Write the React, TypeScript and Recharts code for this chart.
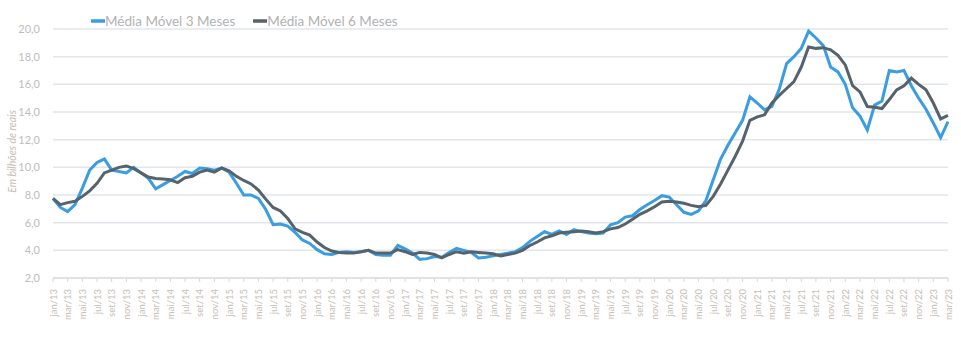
import { LineChart, Line, XAxis, YAxis, CartesianGrid, Legend } from "recharts"

const meses = ["jan", "fev", "mar", "abr", "mai", "jun", "jul", "ago", "set", "out", "nov", "dez"]
const anos = [13, 14, 15, 16, 17, 18, 19, 20, 21, 22, 23]

// jan/13 .. mar/23
const categorias = anos.flatMap((a) => meses.map((m) => `${m}/${a}`)).slice(0, 123)

const media3Meses = [
  7.75, 7.1, 6.8, 7.3, 8.5, 9.8, 10.35, 10.6, 9.8, 9.7, 9.6, 10.0,
  9.6, 9.2, 8.45, 8.75, 9.05, 9.35, 9.7, 9.55, 9.95, 9.9, 9.8, 9.95,
  9.65, 8.85, 8.0, 8.0, 7.75, 6.95, 5.85, 5.9, 5.75, 5.3, 4.75, 4.5,
  4.05, 3.75, 3.7, 3.85, 3.9, 3.85, 3.9, 4.0, 3.7, 3.65, 3.65, 4.35,
  4.1, 3.8, 3.35, 3.4, 3.55, 3.5, 3.85, 4.15, 4.0, 3.85, 3.45, 3.5,
  3.6, 3.7, 3.8, 3.9, 4.2, 4.65, 5.0, 5.35, 5.15, 5.4, 5.15, 5.5,
  5.35, 5.25, 5.2, 5.25, 5.85, 6.0, 6.4, 6.5, 6.95, 7.3, 7.6, 7.95,
  7.85, 7.3, 6.75, 6.6, 6.85, 7.6, 9.1, 10.6, 11.6, 12.5, 13.4, 15.1,
  14.65, 14.15, 14.4, 15.65, 17.5, 18.0, 18.6, 19.85, 19.35, 18.8, 17.25, 16.9,
  16.0, 14.3, 13.7, 12.7, 14.5, 14.8, 17.0, 16.9, 17.0, 15.9, 15.0, 14.2,
  13.2, 12.15, 13.3,
]

const media6Meses = [
  7.75, 7.3, 7.45, 7.55, 7.9, 8.3, 8.85, 9.6, 9.8, 10.0, 10.1, 9.9,
  9.6, 9.3, 9.2, 9.15, 9.1, 8.9, 9.25, 9.35, 9.65, 9.8, 9.65, 9.95,
  9.75, 9.35, 9.05, 8.8, 8.35, 7.7, 7.1, 6.85, 6.3, 5.55, 5.3, 5.1,
  4.6, 4.2, 3.95, 3.85, 3.8, 3.8, 3.9, 4.0, 3.8, 3.8, 3.8, 4.05,
  3.9, 3.7, 3.85, 3.8, 3.7, 3.45, 3.7, 3.9, 3.8, 3.9, 3.85, 3.8,
  3.75, 3.6, 3.7, 3.8, 4.0, 4.35, 4.6, 4.9, 5.05, 5.25, 5.3, 5.35,
  5.4, 5.35, 5.25, 5.35, 5.55, 5.65, 5.9, 6.25, 6.6, 6.85, 7.15, 7.5,
  7.55, 7.5, 7.4, 7.25, 7.15, 7.25, 7.9, 8.8, 9.8, 10.8, 11.9, 13.4,
  13.65, 13.8, 14.65, 15.2, 15.7, 16.2, 17.25, 18.7, 18.6, 18.65, 18.5, 18.1,
  17.4, 15.9, 15.45, 14.4, 14.35, 14.25, 14.9, 15.6, 15.9, 16.45, 16.0, 15.6,
  14.65, 13.5, 13.75,
]

const yTicks = [2, 4, 6, 8, 10, 12, 14, 16, 18, 20]

const data = categorias.map((mes, i) => ({
  mes,
  m3: media3Meses[i],
  m6: media6Meses[i],
}))

const font = "Lato, 'Open Sans', sans-serif"
const AZUL = "#3a9de1"
const CINZA = "#56626c"

function MesTick({ x, y, payload }: any) {
  return (
    <g transform={`translate(${x},${y + 5})`}>
      <text
        x={0}
        y={0}
        dy={3.5}
        textAnchor="end"
        transform="rotate(-90)"
        fill="#c6beb6"
        fontSize={9.5}
        fontFamily={font}
      >
        {payload.value}
      </text>
    </g>
  )
}

function Legenda({ payload }: any) {
  return (
    <div style={{ display: "flex", fontFamily: font, fontSize: 13.5, color: "#b2b2b2" }}>
      {(payload || []).map((item: any) => (
        <div key={item.value} style={{ display: "flex", alignItems: "center", marginRight: 18 }}>
          <svg width={14} height={10}>
            <line x1={0} y1={5} x2={14} y2={5} stroke={item.color} strokeWidth={3.5} />
          </svg>
          <span>{item.value}</span>
        </div>
      ))}
    </div>
  )
}

export default function App() {
  return (
    <div style={{ position: "absolute", left: 0, top: 0, width: 961, height: 341, background: "#fff" }}>
      <LineChart width={961} height={341} data={data} margin={{ top: 13, right: 13, left: 0, bottom: 0 }}>
        <CartesianGrid vertical={false} stroke="#e2e6ec" strokeWidth={1.5} />
        <XAxis
          dataKey="mes"
          interval={1}
          height={63}
          tick={<MesTick />}
          stroke="#d8d8d8"
          tickSize={4}
        />
        <YAxis
          domain={[2, 20]}
          ticks={yTicks}
          width={53}
          axisLine={false}
          tickLine={false}
          tickSize={0}
          tickMargin={13}
          tick={{ fill: "#bdbdbd", fontSize: 11, fontFamily: font }}
          tickFormatter={(v: number) => v.toFixed(1).replace(".", ",")}
          label={{
            value: "Em bilhões de reais",
            angle: -90,
            position: "center",
            dx: -14,
            dy: -2,
            fill: "#c6beb6",
            fontSize: 10.5,
            fontStyle: "italic",
            fontFamily: font,
          }}
        />
        <Legend
          verticalAlign="top"
          align="left"
          content={<Legenda />}
          wrapperStyle={{ top: 13, left: 91, width: 400 }}
        />
        <Line
          type="linear"
          dataKey="m3"
          name="Média Móvel 3 Meses"
          stroke={AZUL}
          strokeWidth={3}
          dot={false}
          isAnimationActive={false}
        />
        <Line
          type="linear"
          dataKey="m6"
          name="Média Móvel 6 Meses"
          stroke={CINZA}
          strokeWidth={3}
          dot={false}
          isAnimationActive={false}
        />
      </LineChart>
    </div>
  )
}
